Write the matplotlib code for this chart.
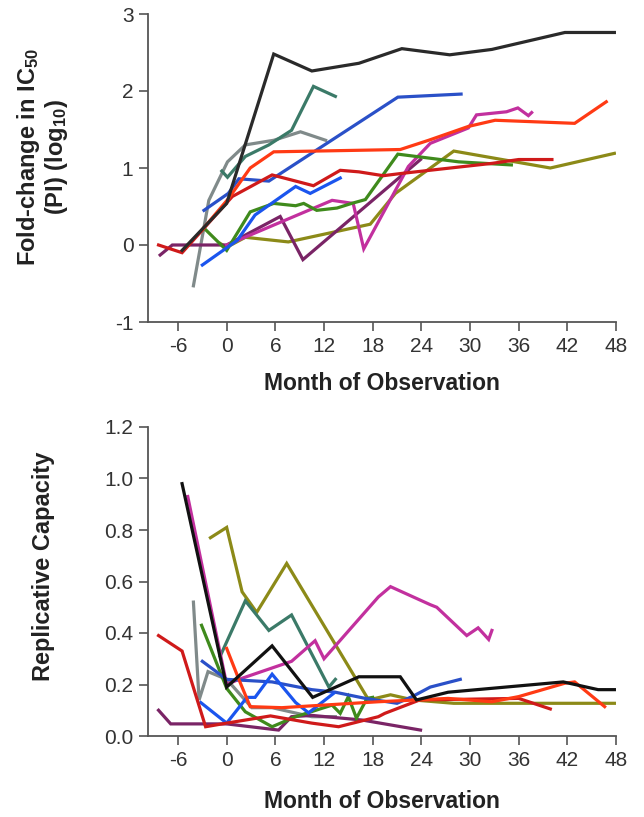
import matplotlib
matplotlib.use('Agg')
import matplotlib.pyplot as plt

plt.rcParams['font.family'] = ['Liberation Sans', 'DejaVu Sans']
plt.rcParams['mathtext.fontset'] = 'custom'
plt.rcParams['mathtext.rm'] = 'Liberation Sans:bold'
plt.rcParams['mathtext.default'] = 'rm'
plt.rcParams['axes.unicode_minus'] = False

# ── Panel A: fold-change in IC50 (log10) ─────────────────────────────────────
a_black_x = [-5.5, 0, 5.8, 10.5, 16.3, 21.6, 27.5, 32.7, 41.7, 47.8]
a_black_y = [-0.07, 0.54, 2.48, 2.26, 2.36, 2.55, 2.47, 2.54, 2.76, 2.76]
a_teal_x = [-0.6, 0.1, 2.3, 5.2, 8.0, 10.7, 13.4]
a_teal_y = [0.96, 0.88, 1.15, 1.3, 1.49, 2.06, 1.93]
a_gray_x = [-4.1, -2.2, 0.1, 2.3, 5.8, 9.1, 12.2]
a_gray_y = [-0.53, 0.58, 1.08, 1.3, 1.36, 1.47, 1.36]
a_blue_x = [-2.8, 0.2, 1.5, 5.2, 21.1, 28.9]
a_blue_y = [0.45, 0.67, 0.86, 0.83, 1.92, 1.96]
a_blue2_x = [-3, 1.3, 3.5, 8.5, 10.3, 14]
a_blue2_y = [-0.26, 0.06, 0.39, 0.76, 0.67, 0.87]
a_orange_x = [-3, 0.2, 2.9, 5.8, 21.4, 24.9, 29.8, 33.1, 42.9, 46.8]
a_orange_y = [0.2, 0.6, 1.0, 1.21, 1.24, 1.36, 1.54, 1.62, 1.58, 1.86]
a_red_x = [-8.4, -5.5, 0.7, 5.6, 10.7, 14, 16.3, 19.3, 21.6, 32.7, 36, 40.1]
a_red_y = [0, -0.1, 0.63, 0.91, 0.77, 0.97, 0.95, 0.9, 0.93, 1.06, 1.11, 1.11]
a_green_x = [-2.8, 0, 2.9, 5.8, 8.5, 9.5, 11.1, 13.6, 15.4, 17.1, 21.1, 28.6, 35.1]
a_green_y = [0.22, -0.07, 0.43, 0.54, 0.51, 0.54, 0.45, 0.48, 0.54, 0.59, 1.18, 1.08, 1.04]
a_olive_x = [-0.8, 0, 2.3, 7.6, 17.7, 20.8, 28, 39.9, 47.8]
a_olive_y = [0.02, -0.03, 0.1, 0.04, 0.27, 0.67, 1.22, 1.0, 1.19]
a_magenta_x = [0, 13, 15.6, 16.9, 22.4, 25.1, 29.8, 30.8, 34.5, 35.9, 37.2, 37.6]
a_magenta_y = [0.0, 0.58, 0.54, -0.05, 1.02, 1.32, 1.52, 1.69, 1.73, 1.78, 1.68, 1.72]
a_purple_x = [-8.2, -6.7, 0, 6.6, 9.4, 23.9]
a_purple_y = [-0.13, 0, 0, 0.37, -0.19, 1.11]

# ── Panel B: replicative capacity ────────────────────────────────────────────
b_black_x = [-5.5, 0, 5.6, 10.6, 16.3, 21.4, 23.4, 27.3, 41.5, 45.8, 47.8]
b_black_y = [0.98, 0.19, 0.35, 0.15, 0.23, 0.23, 0.14, 0.17, 0.21, 0.18, 0.18]
b_magenta_x = [-4.8, 0, 1.5, 8, 10.9, 12, 18.7, 20.2, 25.1, 25.9, 29.6, 31, 32.3, 32.7]
b_magenta_y = [0.93, 0.2, 0.22, 0.29, 0.37, 0.30, 0.54, 0.58, 0.51, 0.50, 0.39, 0.42, 0.375, 0.41]
b_olive_x = [-2, 0, 1.9, 3.7, 7.4, 17.5, 20.2, 23, 28, 47.8]
b_olive_y = [0.77, 0.81, 0.56, 0.48, 0.67, 0.14, 0.16, 0.14, 0.127, 0.127]
b_teal_x = [-0.8, 2.3, 5.2, 8, 12.6, 13.4]
b_teal_y = [0.31, 0.525, 0.41, 0.47, 0.19, 0.22]
b_gray_x = [-4.1, -3.4, -2.3, 0, 3.1, 5.6, 10.5, 13.4]
b_gray_y = [0.52, 0.14, 0.25, 0.22, 0.11, 0.11, 0.075, 0.075]
b_blue_x = [-3, 0, 5.6, 10.5, 13.4, 17.1, 21, 23, 25.1, 28.8]
b_blue_y = [0.29, 0.22, 0.21, 0.18, 0.17, 0.146, 0.127, 0.155, 0.19, 0.22]
b_blue2_x = [-3.2, 0, 2.5, 3.5, 5.6, 8.5, 10.1, 13.2]
b_blue2_y = [0.13, 0.05, 0.15, 0.15, 0.24, 0.13, 0.09, 0.166]
b_orange_x = [0, 1.5, 2.9, 6.8, 18.7, 23.4, 27.3, 32.7, 36, 41.7, 42.9, 46.6]
b_orange_y = [0.34, 0.22, 0.114, 0.11, 0.133, 0.14, 0.146, 0.133, 0.153, 0.205, 0.21, 0.114]
b_red_x = [-8.4, -5.5, -2.6, 0, 5.4, 10.5, 13.8, 18.7, 19.5, 23.8, 36, 39.9]
b_red_y = [0.39, 0.33, 0.036, 0.05, 0.078, 0.05, 0.036, 0.075, 0.088, 0.14, 0.146, 0.105]
b_green_x = [-3.1, 0, 2.3, 5.6, 8.5, 13, 14, 15, 16, 17.3, 18]
b_green_y = [0.43, 0.185, 0.094, 0.036, 0.075, 0.12, 0.088, 0.153, 0.069, 0.146, 0.15]
b_purple_x = [-8.4, -6.9, 0, 6.4, 8, 10.5, 16.7, 23.9]
b_purple_y = [0.1, 0.047, 0.047, 0.023, 0.075, 0.08, 0.062, 0.023]

x_ticks = [-6, 0, 6, 12, 18, 24, 30, 36, 42, 48]

C = {
    'black': '#2a2a2a', 'teal': '#3b7a68', 'gray': '#808a8a', 'blue': '#2a50c8',
    'blue2': '#1b55ee', 'orange': '#ff3a14', 'red': '#cf1a1a', 'green': '#3f8a1c',
    'olive': '#8c8a18', 'magenta': '#c2309e', 'purple': '#7a2466',
}
LW = 2.3

fig = plt.figure(figsize=(6.44, 8.17), dpi=100)
ax1 = fig.add_axes([148 / 644, 1 - 322 / 817, 468 / 644, 308 / 817])
ax2 = fig.add_axes([148 / 644, 1 - 736 / 817, 468 / 644, 309 / 817])

series_a = [
    (a_gray_x, a_gray_y, 'gray'), (a_teal_x, a_teal_y, 'teal'),
    (a_olive_x, a_olive_y, 'olive'), (a_purple_x, a_purple_y, 'purple'),
    (a_magenta_x, a_magenta_y, 'magenta'), (a_green_x, a_green_y, 'green'),
    (a_blue2_x, a_blue2_y, 'blue2'), (a_blue_x, a_blue_y, 'blue'),
    (a_red_x, a_red_y, 'red'), (a_orange_x, a_orange_y, 'orange'),
    (a_black_x, a_black_y, 'black'),
]
series_b = [
    (b_olive_x, b_olive_y, 'olive'), (b_teal_x, b_teal_y, 'teal'),
    (b_gray_x, b_gray_y, 'gray'), (b_purple_x, b_purple_y, 'purple'),
    (b_green_x, b_green_y, 'green'), (b_magenta_x, b_magenta_y, 'magenta'),
    (b_blue_x, b_blue_y, 'blue'), (b_blue2_x, b_blue2_y, 'blue2'),
    (b_red_x, b_red_y, 'red'), (b_orange_x, b_orange_y, 'orange'),
    (b_black_x, b_black_y, 'black'),
]

for xs, ys, c in series_a:
    ax1.plot(xs, ys, color=C[c], lw=LW, solid_joinstyle='miter')
for xs, ys, c in series_b:
    col = '#111111' if c == 'black' else C[c]
    ax2.plot(xs, ys, color=col, lw=LW, solid_joinstyle='miter')

ax1.set_ylim(-1, 3)
ax1.set_yticks([-1, 0, 1, 2, 3])
ax2.set_ylim(0, 1.2)
ax2.set_yticks([0.0, 0.2, 0.4, 0.6, 0.8, 1.0, 1.2])
ax2.set_yticklabels([f'{v:.1f}' for v in [0.0, 0.2, 0.4, 0.6, 0.8, 1.0, 1.2]])

for ax in (ax1, ax2):
    ax.set_xlim(-9.7, 48)
    ax.set_xticks(x_ticks)
    for s in ('top', 'right'):
        ax.spines[s].set_visible(False)
    for s in ('left', 'bottom'):
        ax.spines[s].set_color('#555555')
        ax.spines[s].set_linewidth(1.3)
    ax.tick_params(direction='out', length=6.5, width=1.2, color='#555555',
                   labelsize=15, labelcolor='#333333', pad=4)
    ax.set_xlabel('Month of Observation', fontsize=16.5, fontweight='bold',
                  color='#222222')

ax1.xaxis.set_label_coords(0.5, -0.162)
ax2.xaxis.set_label_coords(0.5, -0.175)

ax1.set_ylabel('Fold-change in IC$_{50}$\n(PI) (log$_{10}$)', fontsize=17,
               fontweight='bold', color='#222222', linespacing=1.05)
ax1.yaxis.set_label_coords(-0.167, 0.536)
ax2.set_ylabel('Replicative Capacity', fontsize=17, fontweight='bold',
               color='#222222')
ax2.yaxis.set_label_coords(-0.199, 0.55)

fig.savefig('out.png', dpi=100)
